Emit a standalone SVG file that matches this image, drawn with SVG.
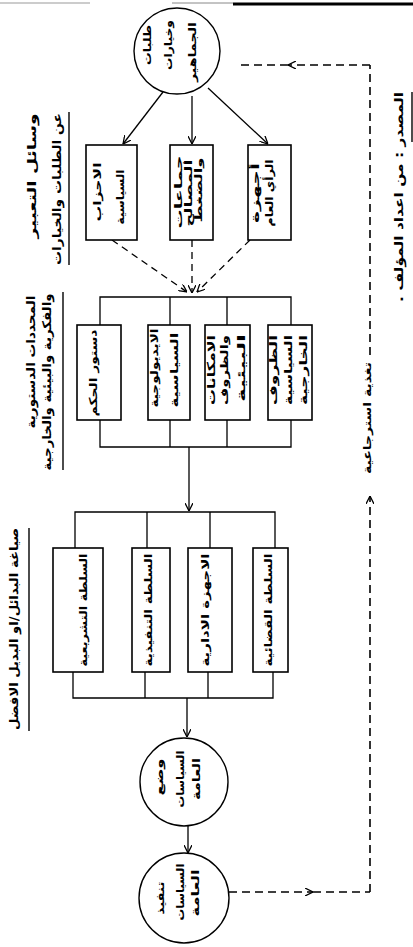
<svg xmlns="http://www.w3.org/2000/svg" width="413" height="947" viewBox="0 0 413 947">
<style>
.bg{fill:#fff}
.box{fill:#fff;stroke:#000;stroke-width:1.6}
.circ{fill:#fff;stroke:#000;stroke-width:1.4}
.ln{fill:none;stroke:#000;stroke-width:1.3}
.dash{fill:none;stroke:#000;stroke-width:1.3;stroke-dasharray:7 5}
.fb{fill:none;stroke:#000;stroke-width:1.6;stroke-dasharray:8 5}
.ul{fill:none;stroke:#000;stroke-width:1.4}
text{font-family:"DejaVu Sans",sans-serif;fill:#000;text-anchor:middle;direction:rtl;unicode-bidi:embed;font-weight:bold}
.t{font-size:11px}
.s{font-size:10px}
.h{font-size:12px}
</style>
<defs>
<marker id="ah" viewBox="0 0 10 10" refX="10" refY="5" markerWidth="8" markerHeight="8" markerUnits="userSpaceOnUse" orient="auto">
<path d="M0,0 L10,5 L0,10" fill="none" stroke="#000" stroke-width="1.6" stroke-dasharray="none"/>
</marker>
</defs>
<rect class="bg" x="0" y="0" width="413" height="947"/>

<g id="scan-edge">
<line x1="0" y1="3" x2="90" y2="3" stroke="#999" stroke-width="1"/>
<line x1="172" y1="3" x2="233" y2="3" stroke="#888" stroke-width="1"/>
<line x1="233" y1="4" x2="413" y2="4" stroke="#000" stroke-width="3"/>
</g>

<g id="titles">
<g id="title-expression">
<text class="h" transform="translate(36,176) rotate(-90)" textLength="125" lengthAdjust="spacingAndGlyphs">وسائل التعبير</text>
<text class="h" transform="translate(61,189) rotate(-90)" textLength="152" lengthAdjust="spacingAndGlyphs">عن الطلبات والخيارات</text>
<line class="ul" x1="69" y1="112" x2="69" y2="265"/>
</g>
<g id="title-constraints">
<text class="h" transform="translate(35,362) rotate(-90)" textLength="133" lengthAdjust="spacingAndGlyphs">المحددات الدستورية</text>
<text class="h" transform="translate(51,382) rotate(-90)" textLength="177" lengthAdjust="spacingAndGlyphs">والفكرية والبيئية والخارجية</text>
<line class="ul" x1="63" y1="292" x2="63" y2="470"/>
</g>
<g id="title-alternatives">
<text class="h" transform="translate(18,629) rotate(-90)" textLength="202" lengthAdjust="spacingAndGlyphs">صياغة البدائل/او البديل الافضل</text>
<line class="ul" x1="29" y1="528" x2="29" y2="731"/>
</g>
<g id="source">
<text class="h" transform="translate(403,197) rotate(-90)" textLength="210" lengthAdjust="spacingAndGlyphs">المصدر : من اعداد المؤلف .</text>
<line class="ul" x1="412" y1="92" x2="412" y2="142"/>
</g>
</g>

<g id="connectors">
<line class="ln" x1="163" y1="92" x2="123" y2="144" marker-end="url(#ah)"/>
<line class="ln" x1="192" y1="96" x2="192" y2="144" marker-end="url(#ah)"/>
<line class="ln" x1="208" y1="88" x2="268" y2="144" marker-end="url(#ah)"/>
<line class="dash" x1="112" y1="240" x2="187" y2="292" marker-end="url(#ah)"/>
<line class="dash" x1="192" y1="240" x2="192" y2="293" marker-end="url(#ah)"/>
<line class="dash" x1="250" y1="240" x2="197" y2="292" marker-end="url(#ah)"/>
<path class="ln" d="M100,325 V297 H291 V325 M170,297 V325 M227,297 V325"/>
<path class="ln" d="M100,420 V447 H291 V420 M170,447 V420 M227,447 V420"/>
<line class="ln" x1="189" y1="447" x2="189" y2="511" marker-end="url(#ah)"/>
<path class="ln" d="M75,548 V512 H275 V548 M147,512 V548 M210,512 V548"/>
<path class="ln" d="M73,672 V698 H273 V672 M145,698 V672 M208,698 V672"/>
<line class="ln" x1="187" y1="698" x2="187" y2="737" marker-end="url(#ah)"/>
<line class="ln" x1="188" y1="826" x2="188" y2="853" marker-end="url(#ah)"/>
<line class="fb" x1="229" y1="892" x2="313" y2="892" marker-end="url(#ah)"/>
<line class="fb" x1="313" y1="892" x2="370" y2="892"/>
<line class="fb" x1="370" y1="892" x2="370" y2="496" marker-end="url(#ah)"/>
<line class="fb" x1="370" y1="355" x2="370" y2="65"/>
<line class="fb" x1="370" y1="65" x2="288" y2="65" marker-end="url(#ah)"/>
<line class="fb" x1="288" y1="65" x2="237" y2="65"/>
<text class="t" transform="translate(371,418) rotate(-90)" textLength="112" lengthAdjust="spacingAndGlyphs">تغذية استرجاعية</text>
</g>

<g id="n-demands">
<circle class="circ" cx="177" cy="51" r="43"/>
<text class="t" transform="translate(151,45) rotate(-90)" textLength="40" lengthAdjust="spacingAndGlyphs">طلبات</text>
<text class="t" transform="translate(172,45) rotate(-90)" textLength="50" lengthAdjust="spacingAndGlyphs">وخيارات</text>
<text class="t" transform="translate(196,52) rotate(-90)" textLength="60" lengthAdjust="spacingAndGlyphs">الجماهير</text>
</g>

<g id="n-parties">
<rect class="box" x="86" y="145" width="51" height="95"/>
<text class="t" transform="translate(101,192) rotate(-90)" textLength="59" lengthAdjust="spacingAndGlyphs">الاحزاب</text>
<text class="t" transform="translate(124,197) rotate(-90)" textLength="55" lengthAdjust="spacingAndGlyphs">السياسية</text>
</g>
<g id="n-interest-groups">
<rect class="box" x="170" y="145" width="43" height="95"/>
<text class="s" transform="translate(182,192) rotate(-90)" textLength="73" lengthAdjust="spacingAndGlyphs">جماعات</text>
<text class="s" transform="translate(192,193) rotate(-90)" textLength="67" lengthAdjust="spacingAndGlyphs">المصالح</text>
<text class="s" transform="translate(202,190) rotate(-90)" textLength="65" lengthAdjust="spacingAndGlyphs">والضغط</text>
</g>
<g id="n-opinion">
<rect class="box" x="248" y="145" width="43" height="95"/>
<text class="t" transform="translate(259,193) rotate(-90)" textLength="60" lengthAdjust="spacingAndGlyphs">أجهزة</text>
<text class="t" transform="translate(273,193) rotate(-90)" textLength="67" lengthAdjust="spacingAndGlyphs">الرأي العام</text>
</g>

<g id="n-constitution">
<rect class="box" x="77" y="325" width="44" height="95"/>
<text class="t" transform="translate(97,373) rotate(-90)" textLength="87" lengthAdjust="spacingAndGlyphs">دستور الحكم</text>
</g>
<g id="n-ideology">
<rect class="box" x="148" y="325" width="42" height="95"/>
<text class="t" transform="translate(158,368) rotate(-90)" textLength="79" lengthAdjust="spacingAndGlyphs">الايديولوجية</text>
<text class="t" transform="translate(178,370) rotate(-90)" textLength="75" lengthAdjust="spacingAndGlyphs">السياسية</text>
</g>
<g id="n-environment">
<rect class="box" x="205" y="325" width="45" height="95"/>
<text class="t" transform="translate(215,370) rotate(-90)" textLength="70" lengthAdjust="spacingAndGlyphs">الامكانات</text>
<text class="t" transform="translate(228,370) rotate(-90)" textLength="70" lengthAdjust="spacingAndGlyphs">والظروف</text>
<text class="t" transform="translate(245,368) rotate(-90)" textLength="68" lengthAdjust="spacingAndGlyphs">البيئية</text>
</g>
<g id="n-external">
<rect class="box" x="268" y="325" width="44" height="95"/>
<text class="t" transform="translate(277,370) rotate(-90)" textLength="70" lengthAdjust="spacingAndGlyphs">الظروف</text>
<text class="t" transform="translate(292,370) rotate(-90)" textLength="70" lengthAdjust="spacingAndGlyphs">السياسية</text>
<text class="t" transform="translate(307,370) rotate(-90)" textLength="70" lengthAdjust="spacingAndGlyphs">الخارجية</text>
</g>

<g id="n-legislative">
<rect class="box" x="53" y="548" width="50" height="124"/>
<text class="t" transform="translate(87,610) rotate(-90)" textLength="113" lengthAdjust="spacingAndGlyphs">السلطة التشريعية</text>
</g>
<g id="n-executive">
<rect class="box" x="132" y="548" width="38" height="124"/>
<text class="t" transform="translate(152,610) rotate(-90)" textLength="113" lengthAdjust="spacingAndGlyphs">السلطة التنفيذية</text>
</g>
<g id="n-administration">
<rect class="box" x="188" y="548" width="44" height="124"/>
<text class="t" transform="translate(209,610) rotate(-90)" textLength="113" lengthAdjust="spacingAndGlyphs">الاجهزة الادارية</text>
</g>
<g id="n-judicial">
<rect class="box" x="253" y="548" width="35" height="124"/>
<text class="t" transform="translate(272,610) rotate(-90)" textLength="113" lengthAdjust="spacingAndGlyphs">السلطة القضائية</text>
</g>

<g id="n-policy-making">
<circle class="circ" cx="184" cy="782" r="44"/>
<text class="t" transform="translate(163,777) rotate(-90)" textLength="37" lengthAdjust="spacingAndGlyphs">وضع</text>
<text class="t" transform="translate(184,779) rotate(-90)" textLength="57" lengthAdjust="spacingAndGlyphs">السياسات</text>
<text class="t" transform="translate(200,779) rotate(-90)" textLength="42" lengthAdjust="spacingAndGlyphs">العامة</text>
</g>
<g id="n-policy-implementation">
<circle class="circ" cx="184" cy="898" r="45"/>
<text class="t" transform="translate(164,898) rotate(-90)" textLength="33" lengthAdjust="spacingAndGlyphs">تنفيذ</text>
<text class="t" transform="translate(184,892) rotate(-90)" textLength="57" lengthAdjust="spacingAndGlyphs">السياسات</text>
<text class="t" transform="translate(199,893) rotate(-90)" textLength="47" lengthAdjust="spacingAndGlyphs">العامة</text>
</g>
</svg>
